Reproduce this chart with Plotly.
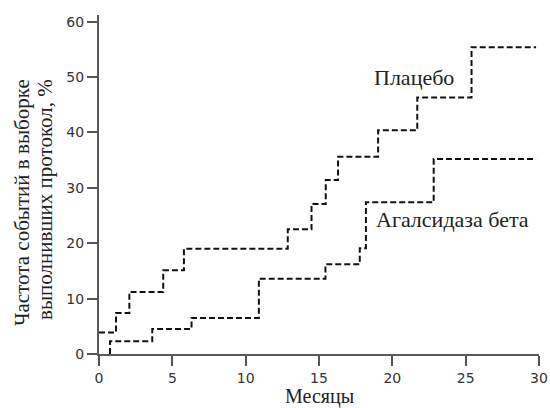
import plotly.graph_objects as go

# Placebo step curve (month of step, event rate % after step)
placebo_x = [0, 1.16, 2.07, 4.38, 5.79, 12.87, 14.49, 15.46, 16.3, 19.03, 21.7, 25.4, 29.8]
placebo_y = [3.9, 7.4, 11.2, 15.1, 19.0, 22.5, 27.1, 31.4, 35.6, 40.4, 46.3, 55.4, 55.4]

# Agalsidase beta step curve
agal_x = [0.75, 0.75, 3.63, 6.31, 10.9, 15.44, 17.78, 18.2, 22.82, 29.8]
agal_y = [0, 2.3, 4.5, 6.5, 13.6, 16.2, 19.1, 27.4, 35.2, 35.2]

x_ticks = [0, 5, 10, 15, 20, 25, 30]
y_ticks = [0, 10, 20, 30, 40, 50, 60]

label_placebo = "Плацебо"
label_agal = "Агалсидаза бета"
x_title = "Месяцы"
y_title_lines = ["Частота событий в выборке", "выполнивших протокол, %"]

serif = "Liberation Serif, Times New Roman, serif"
sans = "DejaVu Sans, sans-serif"
text_color = "#222222"

fig = go.Figure()
line_style = dict(color="#111111", width=2, dash="6px,3px", shape="hv")
fig.add_trace(go.Scatter(x=placebo_x, y=placebo_y, mode="lines", line=line_style,
                         showlegend=False, hoverinfo="skip", cliponaxis=False))
fig.add_trace(go.Scatter(x=agal_x, y=agal_y, mode="lines", line=line_style,
                         showlegend=False, hoverinfo="skip", cliponaxis=False))

fig.add_annotation(x=21.5, y=50, text=label_placebo, showarrow=False,
                   xanchor="center", yanchor="middle",
                   font=dict(family=serif, size=22, color=text_color))
fig.add_annotation(x=18.75, y=24.2, text=label_agal, showarrow=False,
                   xanchor="left", yanchor="middle",
                   font=dict(family=serif, size=22, color=text_color))

# y-axis title: two lines, top-aligned
for xp, line in zip([-0.176, -0.124], y_title_lines):
    fig.add_annotation(x=xp, y=0.817, xref="paper", yref="paper", text=line,
                       showarrow=False, textangle=-90,
                       xanchor="center", yanchor="top",
                       font=dict(family=serif, size=21, color=text_color))

# x-axis title
fig.add_annotation(x=15, y=-0.125, xref="x", yref="paper", text=x_title,
                   showarrow=False, xanchor="center", yanchor="middle",
                   font=dict(family=serif, size=20, color=text_color))

axis_common = dict(showgrid=False, zeroline=False, showline=True, linecolor="#5a5a5a",
                   linewidth=2, ticks="outside", ticklen=10, tickwidth=2,
                   tickcolor="#555555", automargin=False,
                   tickfont=dict(family=sans, size=14, color="#333333"))

fig.update_xaxes(range=[0, 30], tickvals=x_ticks, ticktext=[str(v) for v in x_ticks],
                 **axis_common)
fig.update_yaxes(range=[0, 61.2], tickvals=y_ticks, ticktext=[str(v) for v in y_ticks],
                 **axis_common)

fig.update_layout(width=550, height=408,
                  margin=dict(l=99, r=11, t=15, b=54, autoexpand=False),
                  plot_bgcolor="white", paper_bgcolor="white")

fig.write_html("out.html")
